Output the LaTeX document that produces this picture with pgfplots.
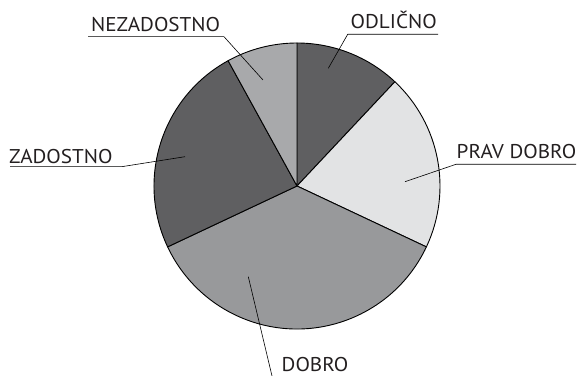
\documentclass[border=0pt]{standalone}
\usepackage{pgfplots}
\pgfplotsset{compat=1.18}
\usepackage{fontspec}
\setmainfont{PT Sans}[FakeStretch=1.06]

\definecolor{txt}{RGB}{35,31,32}
\definecolor{odl}{RGB}{95,95,97}
\definecolor{prav}{RGB}{226,227,228}
\definecolor{dob}{RGB}{152,153,155}
\definecolor{zad}{RGB}{95,95,97}
\definecolor{nez}{RGB}{168,169,171}

\begin{document}
\begin{tikzpicture}
\begin{axis}[
name=ax,
width=577bp, height=376bp,
scale only axis,
xmin=0, xmax=577,
ymin=0, ymax=376,
hide axis,
clip=false
]
% pie: shares in percent, clockwise from the top
\def\cx{297}\def\cy{190}\def\r{143}
\xdef\a{90}
\foreach \v/\c in {12/odl, 20/prav, 36/dob, 24/zad, 8/nez}{
  \pgfmathsetmacro\b{\a-3.6*\v}
  \pgfmathsetmacro\xa{\cx+\r*cos(\a)}
  \pgfmathsetmacro\ya{\cy+\r*sin(\a)}
  \edef\temp{\noexpand\filldraw[fill=\c, draw=black, line width=0.9bp, line join=round]
    (axis cs:\cx,\cy) -- (axis cs:\xa,\ya)
    arc[start angle=\a, end angle=\b, radius=\r bp] -- cycle;}
  \temp
  \xdef\a{\b}
}

% leader lines
\draw[line width=0.6bp] (axis cs:88,339.3) -- (axis cs:224,339.3) -- (axis cs:263,296);
\draw[line width=0.6bp] (axis cs:438,341.7) -- (axis cs:347.7,341.7) -- (axis cs:328.3,307.7);
\draw[line width=0.6bp] (axis cs:576,211.7) -- (axis cs:456,211.7) -- (axis cs:405,194.3);
\draw[line width=0.6bp] (axis cs:10,209.3) -- (axis cs:121.7,209.3) -- (axis cs:185,219.3);
\draw[line width=0.6bp] (axis cs:248.3,99.3) -- (axis cs:272,0);

\tikzset{lbl/.style={anchor=base west, inner sep=0pt, text=txt,
  font=\fontsize{20}{24}\selectfont}}
\node[lbl] at (axis cs:91,344.3) {NEZADOSTNO};
\node[lbl] at (axis cs:350.5,347.7) {ODLIČNO};
\node[lbl] at (axis cs:456.5,217.7) {PRAV DOBRO};
\node[lbl] at (axis cs:9,212.7) {ZADOSTNO};
\node[lbl] at (axis cs:281.5,4.3) {DOBRO};
\end{axis}
\pgfresetboundingbox
\useasboundingbox (ax.south west) rectangle (ax.north east);
\end{tikzpicture}
\end{document}
